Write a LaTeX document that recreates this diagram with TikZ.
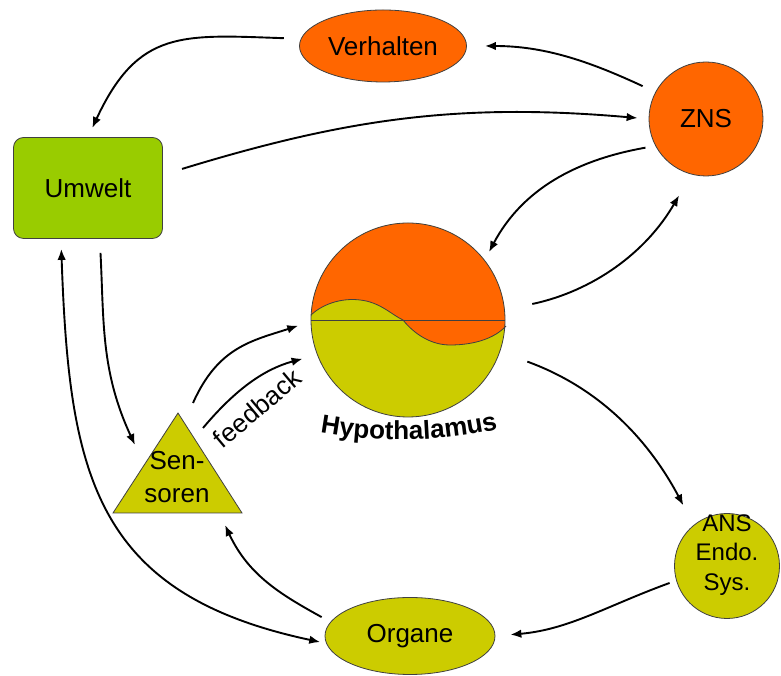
\documentclass[tikz,border=0pt]{standalone}
\usepackage{fontspec}
\setmainfont{Liberation Sans}
\usepackage{tikz}
\usetikzlibrary{shapes.geometric, arrows.meta, positioning, decorations.text}
\definecolor{hotorange}{HTML}{FF6600}
\definecolor{leafgreen}{HTML}{99CC00}
\definecolor{mustard}{HTML}{CCCC00}

\begin{document}
\begin{tikzpicture}[x=1pt, y=1pt,
  >={Latex[length=11pt,width=8.5pt]},
  blob/.style={draw=black!75, line width=0.8pt, fill=#1, inner sep=0pt,
    font=\fontsize{26}{31}\selectfont, align=center},
  lbl/.style={font=\fontsize{26}{33}\selectfont, align=center},
  link/.style={->, line width=1.9pt},
  rim/.style={draw=black!75, line width=0.8pt}
]
  \useasboundingbox (0,0) rectangle (781,676);

  % Umwelt, Verhalten, ZNS
  \node[blob=leafgreen, rectangle, rounded corners=10pt, minimum width=149pt, minimum height=101pt] (umwelt) at (88,488) {Umwelt};
  \node[blob=hotorange, ellipse, minimum width=167pt, minimum height=72pt] (verhalten) at (383,630) {Verhalten};
  \node[blob=hotorange, circle, minimum size=114pt] (zns) at (706,557) {ZNS};

  % Hypothalamus
  \fill[mustard] (408,356) circle (97);
  \begin{scope}
    \clip (408,356) circle (97);
    \fill[hotorange] (300,361) -- (311,361) .. controls (325,374) and (345,378) .. (360,376)
      .. controls (380,374) and (392,361) .. (403,356) .. controls (415,341) and (432,331) .. (450,331)
      .. controls (475,331) and (495,338) .. (506,350) -- (520,350) -- (520,460) -- (300,460) -- cycle;
  \end{scope}
  \draw[rim] (311,361) .. controls (325,374) and (345,378) .. (360,376)
      .. controls (380,374) and (392,361) .. (403,356) .. controls (415,341) and (432,331) .. (450,331)
      .. controls (475,331) and (495,338) .. (506,350);
  \node[rim, circle, minimum size=194pt, inner sep=0pt] (hypo) at (408,356) {};
  \draw[rim] (hypo.west) -- (hypo.east);
  \path[decorate, decoration={text along path, text align=center,
    text={|\fontsize{26}{30}\selectfont\bfseries|Hypothalamus}}]
    (316,244) .. controls (375,233) and (440,233) .. (502,248);

  % Sensoren
  \draw[rim, fill=mustard] (113,163) -- (178,263) -- (242,163) -- cycle;
  \node[lbl] (sensoren) at (177,199) {Sen-\\soren};
  \coordinate (sens-in) at (135,231);
  \coordinate (sens-up) at (193,273);
  \coordinate (sens-fb) at (203,248);
  \coordinate (sens-low) at (225,151);

  % ANS, Organe
  \node[blob=mustard, circle, minimum size=105pt] (ans) at (727,110) {};
  \node[font=\fontsize{24}{29.5}\selectfont, align=center] (anstext) at (727,121) {ANS\\Endo.\\Sys.};
  \node[blob=mustard, ellipse, minimum width=170pt, minimum height=77pt] (organe) at (410,40) {Organe};

  % Verbindungen
  \draw[link, shorten <=14pt, shorten >=18pt] (zns.152) to[out=155, in=0] (verhalten.east);
  \draw[link, shorten <=17pt, shorten >=10pt] (verhalten.175) to[out=178, in=65, looseness=1.3] (umwelt.north);
  \draw[link, shorten <=20pt, shorten >=11pt] (umwelt.10) to[out=17, in=175] (zns.west);
  \draw[link, shorten <=10pt, shorten >=9pt] (zns.208) to[out=190, in=62] (hypo.38);
  \draw[link, shorten <=28pt, shorten >=24pt] (hypo.6) to[out=12, in=240] (zns.255);
  \draw[link, shorten <=29pt, shorten >=22pt] (hypo.-19) to[out=-20, in=118] (ans.129);
  \draw[link, shorten <=7pt, shorten >=15pt] (ans.196) to[out=200, in=5] (organe.east);
  \draw[link, shorten <=10pt] (organe.170) to[out=151, in=295] (sens-low);
  \draw[link, <->, shorten <=10pt, shorten >=6pt] (umwelt.242) to[out=-88, in=168, looseness=1.25] (organe.185);
  \draw[link, shorten <=14pt] (umwelt.283) to[out=-87, in=115] (sens-in);
  \draw[link, shorten >=13pt] (sens-up) to[out=66, in=198, looseness=1.1] (hypo.181);
  \draw[link, shorten >=15pt] (sens-fb) to[out=50, in=195] (hypo.201);
  \node[lbl, rotate=40] (fb) at (257,268) {feedback};
\end{tikzpicture}
\end{document}
